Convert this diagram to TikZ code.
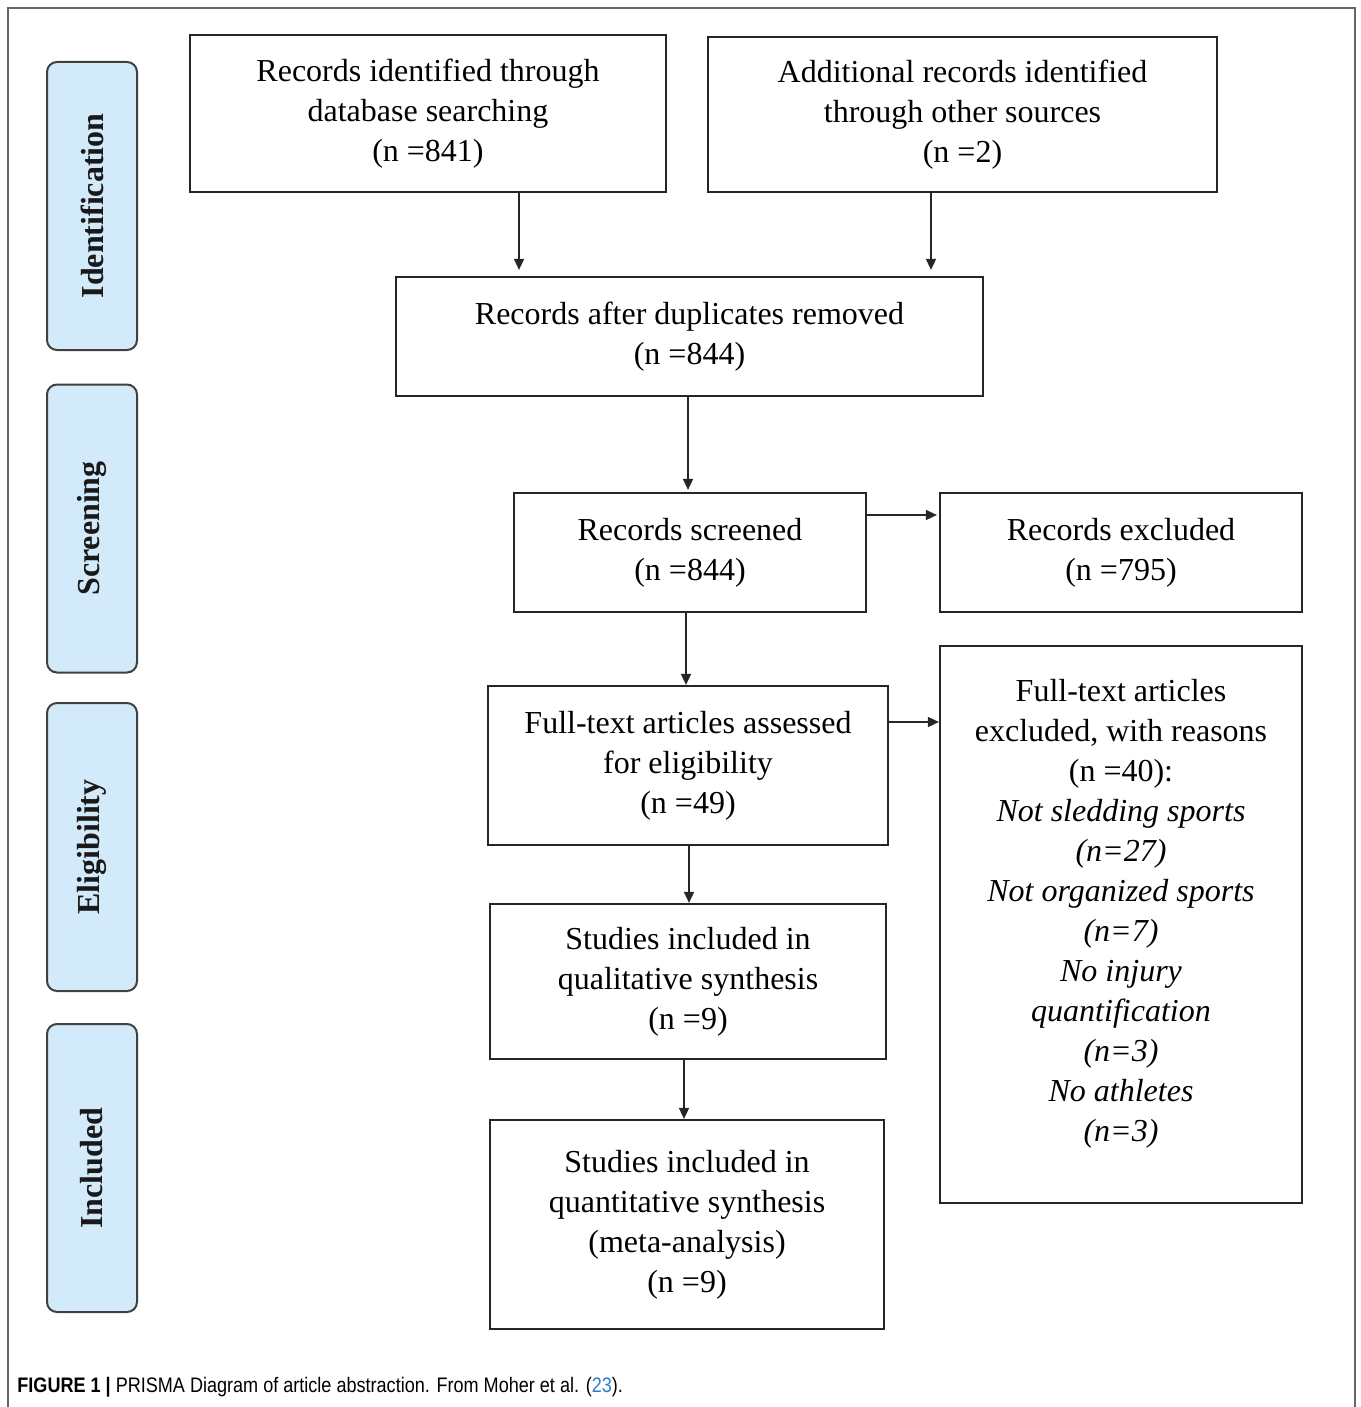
\documentclass[tikz,border=0pt]{standalone}
\usepackage{fontspec}
\setmainfont{Liberation Serif}
\newfontfamily\capfont[FakeStretch=0.86]{Liberation Sans}
\usetikzlibrary{arrows.meta,calc}
\definecolor{sideblue}{HTML}{D3EAFB}
\definecolor{refblue}{HTML}{2F7FC8}
\begin{document}
\begin{tikzpicture}[x=0.5pt,y=-0.5pt,
  box/.style={draw=black!85, line width=1.1pt, align=center, inner sep=0pt,
    font=\fontsize{16}{20}\selectfont},
  side/.style={draw=black!75, fill=sideblue, rounded corners=5pt, line width=1pt,
    minimum width=45pt, minimum height=144pt, inner sep=0pt},
  sidetext/.style={rotate=90, font=\fontsize{16}{18}\selectfont\bfseries, text=black!90},
  arr/.style={-{Triangle[length=5.5pt,width=5pt]}, line width=0.8pt, draw=black!85}]
\useasboundingbox (0,0) rectangle (1360,1407);
% outer frame (open at the bottom)
\draw[draw=black!60, line width=1.2pt] (8,1407) -- (8,8) -- (1355,8) -- (1355,1407);

% side labels
\node[side] (sid) at (92,206) {};
\node[sidetext] at (sid) {Identification};
\node[side] (sscr) at (92,528.5) {};
\node[sidetext] at (sscr) {Screening};
\node[side] (selg) at (92,847) {};
\node[sidetext] at (selg) {Eligibility};
\node[side] (sinc) at (92,1168) {};
\node[sidetext] at (sinc) {Included};

% boxes
\node[box, minimum width=238pt, minimum height=78.5pt] (b1) at (428,113.5)
  {Records identified through\\database searching\\(n =841)};
\node[box, minimum width=254.5pt, minimum height=77.5pt] (b2) at (962.5,114.5)
  {Additional records identified\\through other sources\\(n =2)};
\node[box, minimum width=293.5pt, minimum height=59.5pt] (b3) at (689.5,336.5)
  {Records after duplicates removed\\(n =844)};
\node[box, minimum width=176pt, minimum height=59.5pt] (b4) at (690,552.5)
  {Records screened\\(n =844)};
\node[box, minimum width=181pt, minimum height=59.5pt] (b5) at (1121,552.5)
  {Records excluded\\(n =795)};
\node[box, minimum width=200pt, minimum height=79.5pt] (b6) at (688,765.5)
  {Full-text articles assessed\\for eligibility\\(n =49)};
\node[box, minimum width=181pt, minimum height=278.5pt] (b7) at (1121,924.5) {};
\node[align=center, inner sep=0pt, anchor=north, font=\fontsize{16}{20}\selectfont]
  (b7t) at ([yshift=-17pt]b7.north)
  {Full-text articles\\excluded, with reasons\\(n =40):\\
   \textit{Not sledding sports}\\\textit{(n=27)}\\\textit{Not organized sports}\\
   \textit{(n=7)}\\\textit{No injury}\\\textit{quantification}\\\textit{(n=3)}\\
   \textit{No athletes}\\\textit{(n=3)}};
\node[box, minimum width=198pt, minimum height=77.5pt] (b8) at (688,981.5)
  {Studies included in\\qualitative synthesis\\(n =9)};
\node[box, minimum width=197pt, minimum height=104.5pt] (b9) at (687,1224.5)
  {Studies included in\\quantitative synthesis\\(meta-analysis)\\(n =9)};

% connector guides
\coordinate (x1) at (519,0);
\coordinate (x2) at (931,0);
\coordinate (x3) at (688,0);
\coordinate (x4) at (686,0);
\coordinate (x5) at (689,0);
\coordinate (x6) at (684,0);
\coordinate (y1) at (0,515);
\coordinate (y2) at (0,722);

\draw[arr, shorten >=3pt] (b1.south -| x1) -- (b3.north -| x1);
\draw[arr, shorten >=3pt] (b2.south -| x2) -- (b3.north -| x2);
\draw[arr, shorten >=1pt] (b3.south -| x3) -- (b4.north -| x3);
\draw[arr, shorten >=1pt] (b4.east |- y1) -- (b5.west |- y1);
\draw[arr] (b4.south -| x4) -- (b6.north -| x4);
\draw[arr] (b6.east |- y2) -- (b7.west |- y2);
\draw[arr] (b6.south -| x5) -- (b8.north -| x5);
\draw[arr] (b8.south -| x6) -- (b9.north -| x6);

% caption
\node[anchor=base west, inner sep=0pt, font=\capfont\fontsize{10.5}{12}\selectfont] (cap) at (17,1392)
  {\textbf{FIGURE 1 |} PRISMA Diagram of article abstraction. From Moher et al. (\textcolor{refblue}{23}).};
\end{tikzpicture}
\end{document}
